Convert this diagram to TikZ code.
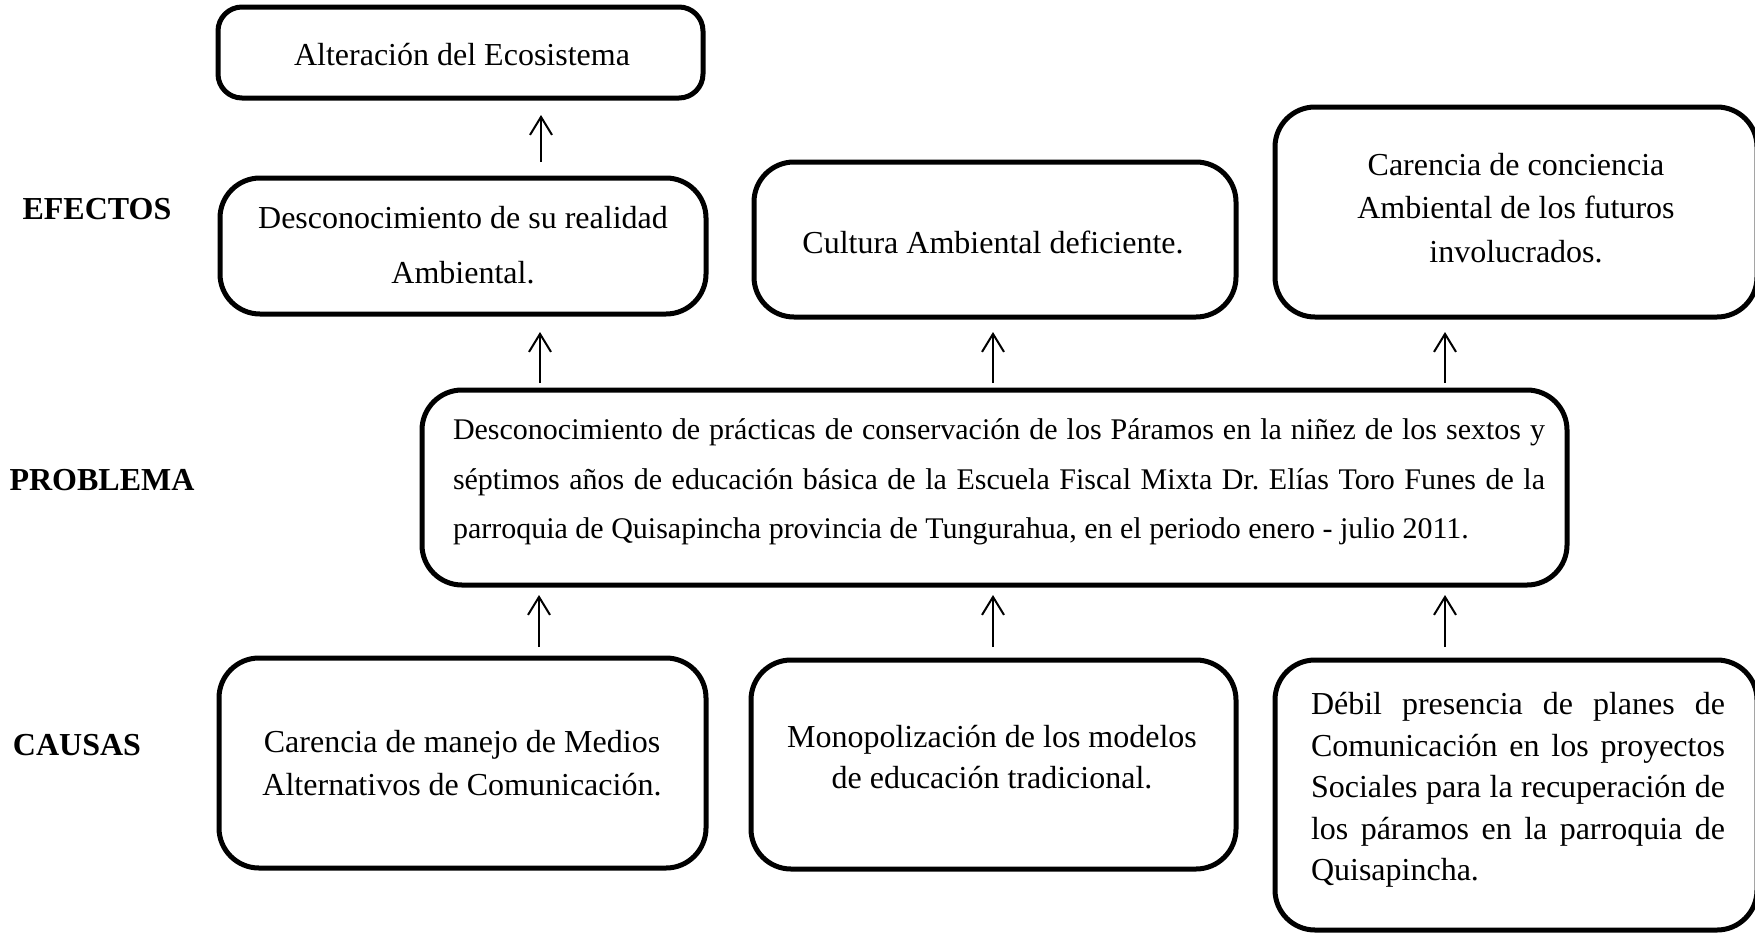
\documentclass[tikz,border=0pt]{standalone}
\usepackage{fontspec}
\setmainfont{Liberation Serif}
\usetikzlibrary{arrows.meta,fit}
\begin{document}
\frenchspacing
\begin{tikzpicture}[x=0.5pt,y=-0.5pt,
  box/.style={draw, line width=2.5pt, rounded corners=20pt, inner sep=0pt},
  txt/.style={font=\fontsize{16}{21.5}\selectfont, align=center, inner sep=0pt},
  lab/.style={font=\fontsize{16}{19}\selectfont\bfseries, inner sep=0pt},
  arr/.style={line width=1pt, -{Straight Barb[length=9pt,width=11pt,line width=1pt]}}]
\useasboundingbox (0,0) rectangle (1755,932);

% row labels
\node[lab] (lef) at (97,209) {EFECTOS};
\node[lab] (lpr) at (102,480) {PROBLEMA};
\node[lab] (lca) at (77,745) {CAUSAS};

% boxes
\node[box, rounded corners=12pt, fit={(218,7) (703,98)}] (e0) {};
\node[box, fit={(220,178) (706,314)}] (e1) {};
\node[box, fit={(754,162) (1236,317)}] (e2) {};
\node[box, fit={(1275,107) (1757,317)}] (e3) {};
\node[box, fit={(422,390) (1567,585)}] (pb) {};
\node[box, fit={(219,658) (706,868)}] (c1) {};
\node[box, fit={(751,660) (1236,869)}] (c2) {};
\node[box, fit={(1275,660) (1757,930)}] (c3) {};

% texts
\node[txt] (e0t) at (462,55) {Alteración del Ecosistema};
\node[txt, font=\fontsize{16}{27.5}\selectfont] (e1t) at (463,245) {Desconocimiento de su realidad\\Ambiental.};
\node[txt] (e2t) at (993,242) {Cultura Ambiental deficiente.};
\node[txt, font=\fontsize{16}{21.75}\selectfont] (e3t) at (1516,208) {Carencia de conciencia\\Ambiental de los futuros\\involucrados.};
\node[txt, align=justify, text width=546pt, font=\fontsize{15}{24.75}\selectfont] (pbt) at (999,482)
  {Desconocimiento de prácticas de conservación de los Páramos en la niñez de los sextos y\linebreak
   séptimos años de educación básica de la Escuela Fiscal Mixta Dr. Elías Toro Funes de la\linebreak
   parroquia de Quisapincha provincia de Tungurahua, en el periodo enero - julio 2011.};
\node[txt] (c1t) at (462,763) {Carencia de manejo de Medios\\Alternativos de Comunicación.};
\node[txt, font=\fontsize{16}{20.5}\selectfont] (c2t) at (992,757) {Monopolización de los modelos\\de educación tradicional.};
\node[txt, align=justify, text width=207pt, font=\fontsize{16}{20.75}\selectfont] (c3t) at (1518,790)
  {Débil presencia de planes de\linebreak
   Comunicación en los proyectos\linebreak
   Sociales para la recuperación de\linebreak
   los páramos en la parroquia de\linebreak
   Quisapincha.};

% arrow end points
\coordinate (a0s) at (541,162); \coordinate (a0e) at (541,115);
\coordinate (a1s) at (540,383); \coordinate (a1e) at (540,332);
\coordinate (a2s) at (993,383); \coordinate (a2e) at (993,332);
\coordinate (a3s) at (1445,383); \coordinate (a3e) at (1445,332);
\coordinate (a4s) at (539,647); \coordinate (a4e) at (539,595);
\coordinate (a5s) at (993,647); \coordinate (a5e) at (993,595);
\coordinate (a6s) at (1445,647); \coordinate (a6e) at (1445,595);

\draw[arr] (a0s) -- (a0e);
\draw[arr] (a1s) -- (a1e);
\draw[arr] (a2s) -- (a2e);
\draw[arr] (a3s) -- (a3e);
\draw[arr] (a4s) -- (a4e);
\draw[arr] (a5s) -- (a5e);
\draw[arr] (a6s) -- (a6e);
\end{tikzpicture}
\end{document}
